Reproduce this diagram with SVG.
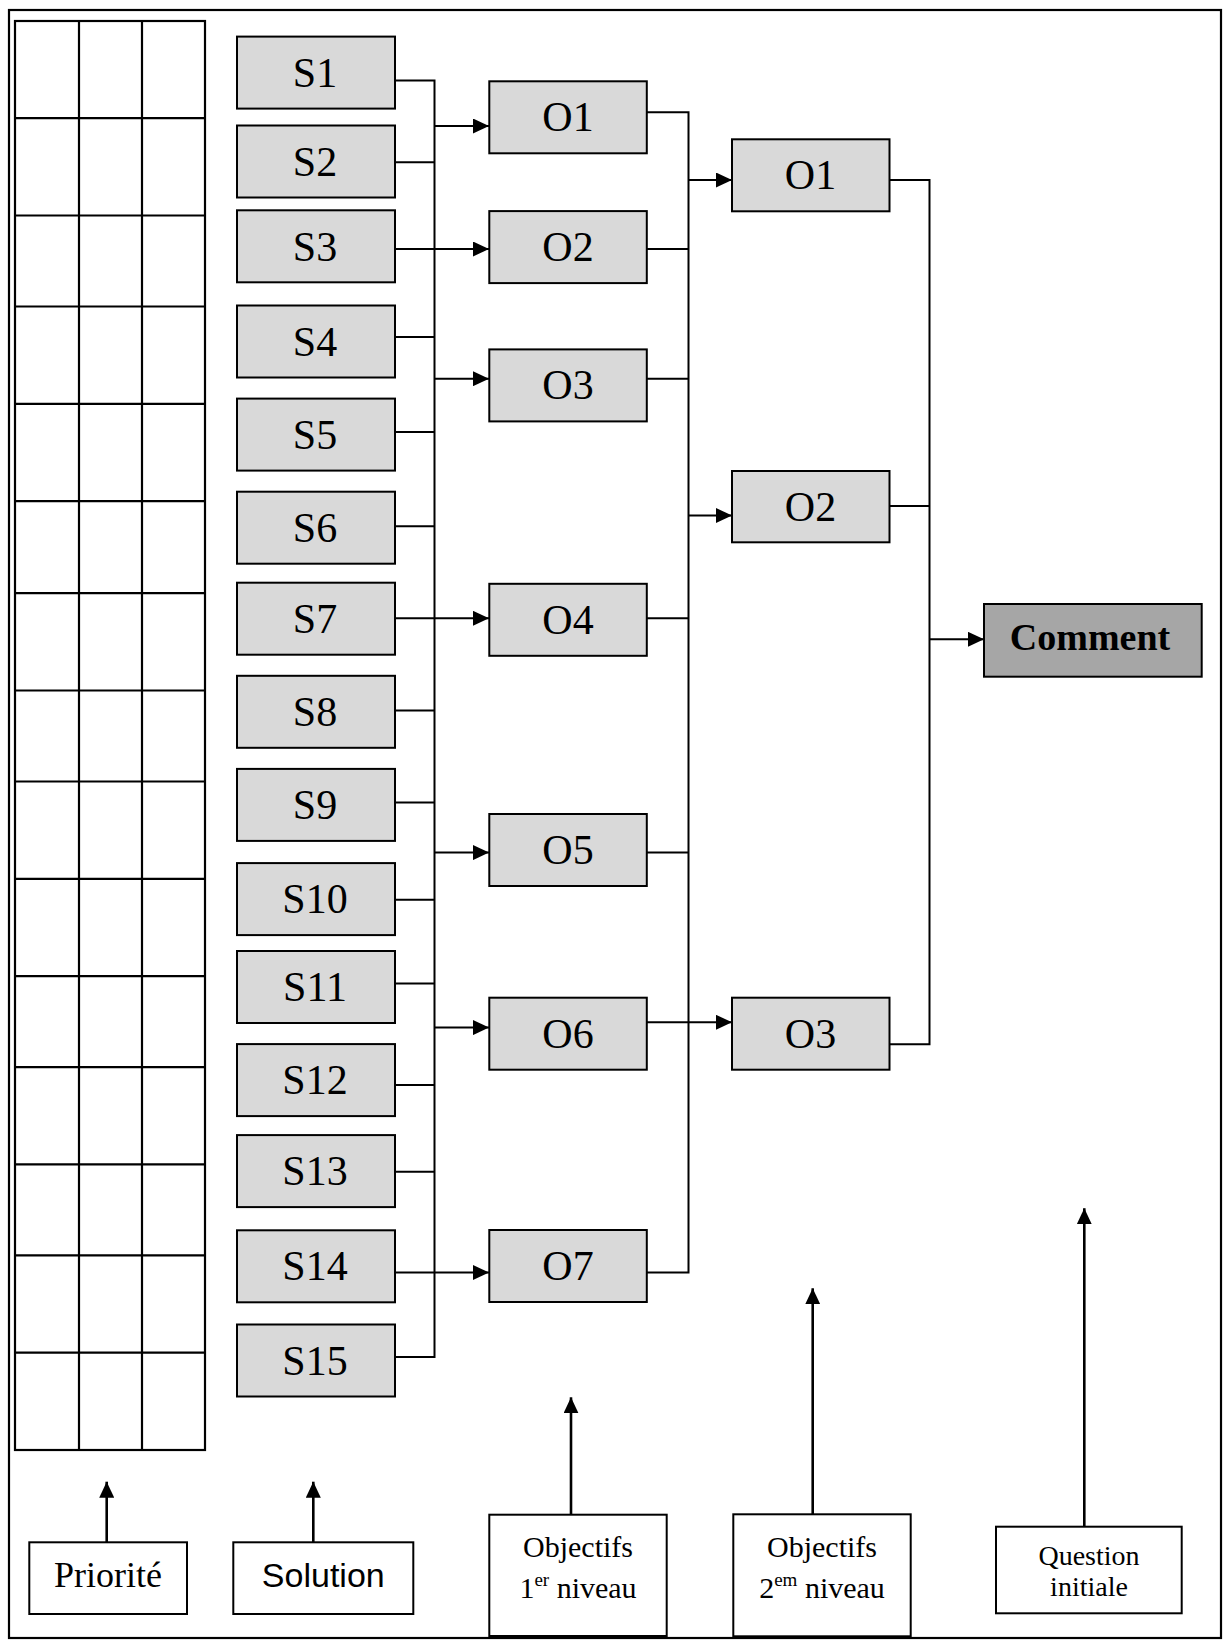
<svg xmlns="http://www.w3.org/2000/svg" width="1223" height="1640" viewBox="0 0 1223 1640">
  <style>
    .frame { fill: none; stroke: #000; stroke-width: 2.2; }
    .grid line { stroke: #000; stroke-width: 2.2; }
    .box { fill: #d9d9d9; stroke: #000; stroke-width: 2; }
    .dark { fill: #a6a6a6; stroke: #000; stroke-width: 2; }
    .plain { fill: #fff; stroke: #000; stroke-width: 2; }
    .lbl { font-family: "Liberation Serif", "Times New Roman", serif; font-size: 42px; fill: #000; text-anchor: middle; }
    .bold { font-weight: bold; font-size: 38px; }
    .cap { font-family: "Liberation Serif", "Times New Roman", serif; fill: #000; text-anchor: middle; }
    .sans { font-family: "Liberation Sans", Arial, sans-serif; }
    .wire { fill: none; stroke: #000; stroke-width: 2; }
    .arrow { fill: none; stroke: #000; stroke-width: 2; marker-end: url(#head); }
    .up { fill: none; stroke: #000; stroke-width: 2.6; marker-end: url(#head); }
  </style>
  <defs>
    <marker id="head" markerUnits="userSpaceOnUse" markerWidth="16" markerHeight="15" refX="16" refY="7.5" orient="auto">
      <path d="M0,0 L16,7.5 L0,15 Z" fill="#000"/>
    </marker>
  </defs>

  <rect width="1223" height="1640" fill="#fff"/>
  <!-- outer frame -->
  <rect class="frame" x="9" y="10" width="1212" height="1628"/>

  <!-- priority grid: 3 columns x 15 rows -->
  <g id="grille" class="grid">
    <rect class="frame" x="15" y="21" width="190" height="1429"/>
    <line x1="79" y1="21" x2="79" y2="1450"/>
    <line x1="142" y1="21" x2="142" y2="1450"/>
    <line x1="15" y1="118.2" x2="205" y2="118.2"/>
    <line x1="15" y1="215.5" x2="205" y2="215.5"/>
    <line x1="15" y1="306.5" x2="205" y2="306.5"/>
    <line x1="15" y1="403.8" x2="205" y2="403.8"/>
    <line x1="15" y1="501.1" x2="205" y2="501.1"/>
    <line x1="15" y1="593.2" x2="205" y2="593.2"/>
    <line x1="15" y1="690.5" x2="205" y2="690.5"/>
    <line x1="15" y1="781.5" x2="205" y2="781.5"/>
    <line x1="15" y1="878.8" x2="205" y2="878.8"/>
    <line x1="15" y1="976.1" x2="205" y2="976.1"/>
    <line x1="15" y1="1067.1" x2="205" y2="1067.1"/>
    <line x1="15" y1="1164.4" x2="205" y2="1164.4"/>
    <line x1="15" y1="1255.4" x2="205" y2="1255.4"/>
    <line x1="15" y1="1352.7" x2="205" y2="1352.7"/>
  </g>

  <!-- connectors -->
  <g id="connecteurs">
    <!-- solutions to first bus -->
    <path class="wire" d="M395,80.6 H434.5 V1356.9 H395"/>
    <path class="wire" d="M395,162.2 H434.5"/>
    <path class="wire" d="M395,249 H434.5"/>
    <path class="wire" d="M395,336.9 H434.5"/>
    <path class="wire" d="M395,432.1 H434.5"/>
    <path class="wire" d="M395,526.2 H434.5"/>
    <path class="wire" d="M395,618.3 H434.5"/>
    <path class="wire" d="M395,710.4 H434.5"/>
    <path class="wire" d="M395,802.4 H434.5"/>
    <path class="wire" d="M395,899.7 H434.5"/>
    <path class="wire" d="M395,983.4 H434.5"/>
    <path class="wire" d="M395,1084.9 H434.5"/>
    <path class="wire" d="M395,1171.7 H434.5"/>
    <path class="wire" d="M395,1272.5 H434.5"/>
    <!-- first bus to first-level objectives -->
    <path class="arrow" d="M434.5,126 H489"/>
    <path class="arrow" d="M434.5,249 H489"/>
    <path class="arrow" d="M434.5,378.7 H489"/>
    <path class="arrow" d="M434.5,618.3 H489"/>
    <path class="arrow" d="M434.5,852.6 H489"/>
    <path class="arrow" d="M434.5,1027.6 H489"/>
    <path class="arrow" d="M434.5,1272.5 H489"/>
    <!-- first-level objectives to second bus -->
    <path class="wire" d="M647,112.3 H688.5 V1272.5 H647"/>
    <path class="wire" d="M647,249 H688.5"/>
    <path class="wire" d="M647,378.7 H688.5"/>
    <path class="wire" d="M647,618.3 H688.5"/>
    <path class="wire" d="M647,852.6 H688.5"/>
    <path class="wire" d="M647,1022.3 H688.5"/>
    <!-- second bus to second-level objectives -->
    <path class="arrow" d="M688.5,180 H732"/>
    <path class="arrow" d="M688.5,515.5 H732"/>
    <path class="arrow" d="M688.5,1022.3 H732"/>
    <!-- second-level objectives to the question -->
    <path class="wire" d="M889.5,180 H929.5 V1044.3 H889.5"/>
    <path class="wire" d="M889.5,506 H929.5"/>
    <path class="arrow" d="M929.5,639.3 H984"/>
    <!-- legend pointers -->
    <path class="up" d="M106.7,1542.3 V1481.7"/>
    <path class="up" d="M313.3,1542.3 V1481.7"/>
    <path class="up" d="M571,1514.7 V1397.3"/>
    <path class="up" d="M812.7,1514.3 V1288.3"/>
    <path class="up" d="M1084.3,1526.7 V1208.3"/>
  </g>

  <!-- solutions -->
  <g id="S1"><rect class="box" x="237" y="36.6" width="158" height="72"/><text class="lbl" x="315" y="87">S1</text></g>
  <g id="S2"><rect class="box" x="237" y="125.5" width="158" height="72"/><text class="lbl" x="315" y="176">S2</text></g>
  <g id="S3"><rect class="box" x="237" y="210.3" width="158" height="72"/><text class="lbl" x="315" y="261">S3</text></g>
  <g id="S4"><rect class="box" x="237" y="305.5" width="158" height="72"/><text class="lbl" x="315" y="356">S4</text></g>
  <g id="S5"><rect class="box" x="237" y="398.6" width="158" height="72"/><text class="lbl" x="315" y="449">S5</text></g>
  <g id="S6"><rect class="box" x="237" y="491.7" width="158" height="72"/><text class="lbl" x="315" y="542">S6</text></g>
  <g id="S7"><rect class="box" x="237" y="582.7" width="158" height="72"/><text class="lbl" x="315" y="633">S7</text></g>
  <g id="S8"><rect class="box" x="237" y="675.8" width="158" height="72"/><text class="lbl" x="315" y="726">S8</text></g>
  <g id="S9"><rect class="box" x="237" y="768.9" width="158" height="72"/><text class="lbl" x="315" y="819">S9</text></g>
  <g id="S10"><rect class="box" x="237" y="863.1" width="158" height="72"/><text class="lbl" x="315" y="913">S10</text></g>
  <g id="S11"><rect class="box" x="237" y="951" width="158" height="72"/><text class="lbl" x="315" y="1001">S11</text></g>
  <g id="S12"><rect class="box" x="237" y="1044.1" width="158" height="72"/><text class="lbl" x="315" y="1094">S12</text></g>
  <g id="S13"><rect class="box" x="237" y="1135.1" width="158" height="72"/><text class="lbl" x="315" y="1185">S13</text></g>
  <g id="S14"><rect class="box" x="237" y="1230.3" width="158" height="72"/><text class="lbl" x="315" y="1280">S14</text></g>
  <g id="S15"><rect class="box" x="237" y="1324.5" width="158" height="72"/><text class="lbl" x="315" y="1375">S15</text></g>

  <!-- first-level objectives -->
  <g id="O1a"><rect class="box" x="489.3" y="81.3" width="157.5" height="72"/><text class="lbl" x="568" y="131">O1</text></g>
  <g id="O2a"><rect class="box" x="489.3" y="211.1" width="157.5" height="72"/><text class="lbl" x="568" y="261">O2</text></g>
  <g id="O3a"><rect class="box" x="489.3" y="349.4" width="157.5" height="72"/><text class="lbl" x="568" y="399">O3</text></g>
  <g id="O4a"><rect class="box" x="489.3" y="583.8" width="157.5" height="72"/><text class="lbl" x="568" y="634">O4</text></g>
  <g id="O5a"><rect class="box" x="489.3" y="814" width="157.5" height="72"/><text class="lbl" x="568" y="864">O5</text></g>
  <g id="O6a"><rect class="box" x="489.3" y="997.7" width="157.5" height="72"/><text class="lbl" x="568" y="1048">O6</text></g>
  <g id="O7a"><rect class="box" x="489.3" y="1230" width="157.5" height="72"/><text class="lbl" x="568" y="1280">O7</text></g>

  <!-- second-level objectives -->
  <g id="O1b"><rect class="box" x="732" y="139.3" width="157.5" height="72"/><text class="lbl" x="810.5" y="189">O1</text></g>
  <g id="O2b"><rect class="box" x="732" y="471" width="157.5" height="71.3"/><text class="lbl" x="810.5" y="521">O2</text></g>
  <g id="O3b"><rect class="box" x="732" y="997.7" width="157.5" height="72"/><text class="lbl" x="810.5" y="1048">O3</text></g>

  <!-- initial question -->
  <g id="comment"><rect class="dark" x="984" y="604" width="217.7" height="72.7"/><text class="lbl bold" x="1090" y="650">Comment</text></g>

  <!-- legend -->
  <g id="priorite"><rect class="plain" x="29.3" y="1542.3" width="157.7" height="71.7"/><text class="cap" x="108" y="1587" font-size="36">Priorité</text></g>
  <g id="solution"><rect class="plain" x="233.3" y="1542.3" width="180" height="71.7"/><text class="cap sans" x="323.3" y="1587" font-size="34">Solution</text></g>
  <g id="objectifs1"><rect class="plain" x="489.3" y="1514.7" width="177.4" height="121.3"/>
    <text class="cap" x="578" y="1556.5" font-size="30">Objectifs</text>
    <text class="cap" x="578" y="1598.3" font-size="30">1<tspan font-size="19" dy="-12">er</tspan><tspan dy="12"> niveau</tspan></text>
  </g>
  <g id="objectifs2"><rect class="plain" x="733.3" y="1514.3" width="177.4" height="122"/>
    <text class="cap" x="822" y="1556.5" font-size="30">Objectifs</text>
    <text class="cap" x="822" y="1598.3" font-size="30">2<tspan font-size="19" dy="-12">em</tspan><tspan dy="12"> niveau</tspan></text>
  </g>
  <g id="question"><rect class="plain" x="996" y="1526.7" width="185.7" height="86.6"/>
    <text class="cap" x="1089" y="1565" font-size="28">Question</text>
    <text class="cap" x="1089" y="1596" font-size="28">initiale</text>
  </g>
</svg>
